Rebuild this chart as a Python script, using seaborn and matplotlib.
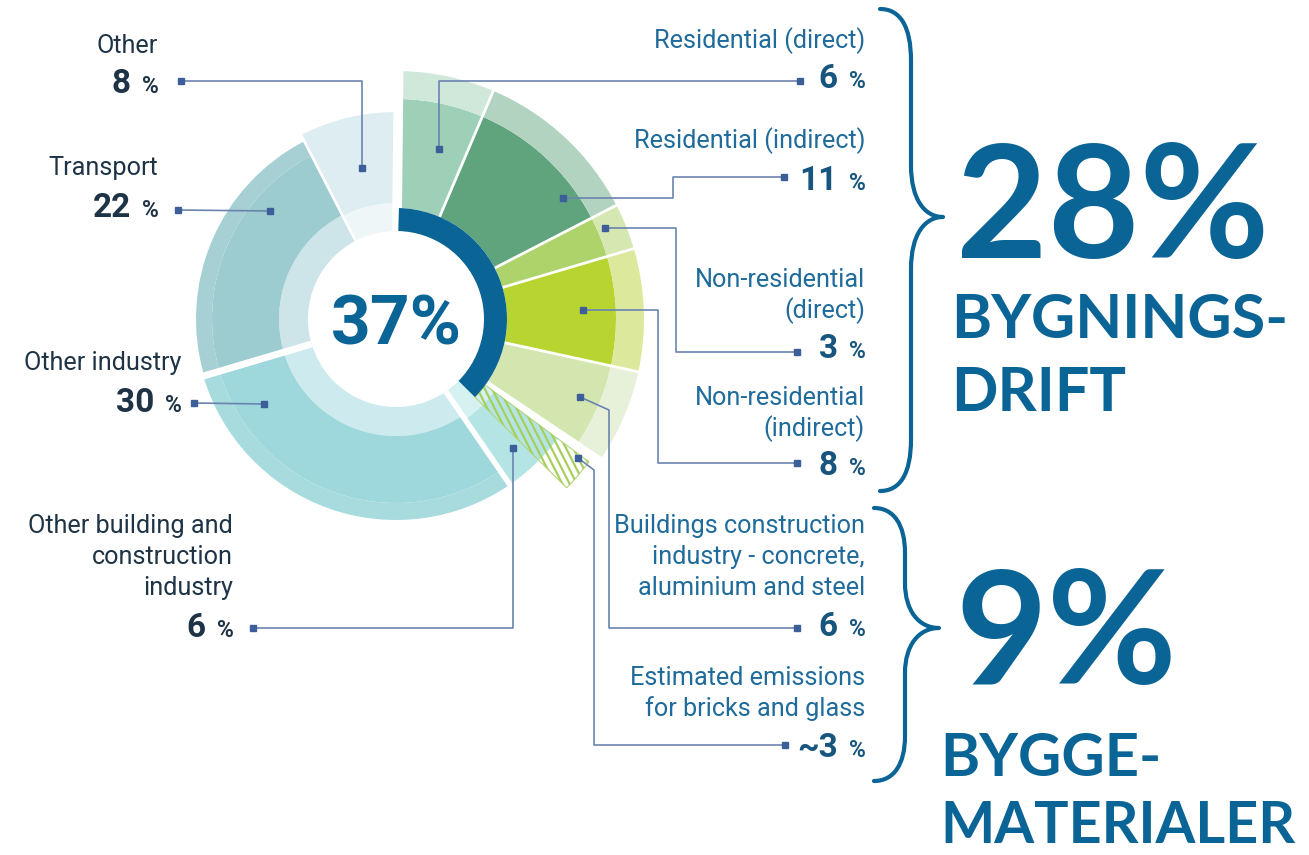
import matplotlib
matplotlib.use("Agg")
import matplotlib.pyplot as plt
from matplotlib.patches import Wedge, PathPatch
from matplotlib.path import Path
import numpy as np
import seaborn as sns

# shares of global CO2 emissions, in percent
building_labels = ["Residential (direct)", "Residential (indirect)", "Non-residential\n(direct)",
                   "Non-residential\n(indirect)",
                   "Buildings construction\nindustry - concrete,\naluminium and steel"]
building_values = [6, 11, 3, 8, 6]
bricks_label = "Estimated emissions\nfor bricks and glass"
bricks_value = 3
other_labels = ["Other building and\nconstruction\nindustry", "Other industry", "Transport", "Other"]
other_values = [6, 30, 22, 8]
total_share = 37
ops_share = 28
materials_share = 9

# colours (main band, outer rim)
building_colors = [("#9dd0b6", "#d0e8da"), ("#5fa47d", "#b2d3bf"), ("#add36a", "#d6e8b1"),
                   ("#b8d431", "#dce99c"), ("#d4e6b0", "#e7f1d9")]
# (inner band, main band, outer rim)
other_colors = [("#d6f1f1", "#b4e4e4", "#b4e4e4"), ("#cdebee", "#9ed8dc", "#a8dbde"),
                ("#cde5e8", "#9ccbd0", "#a7d0d4"), ("#eef6f8", "#ddedf2", "#ddedf2")]
dark = "#0a6496"
lead_col = "#6a84b0"
mark_col = "#3d5f99"
txt_right = "#1f6b9b"
num_right = "#17557f"
txt_left = "#1e3446"

sns.set_theme(style="white")
plt.rcParams["font.family"] = ["Roboto", "DejaVu Sans"]

W, H = 1309, 855
fig = plt.figure(figsize=(W / 100, H / 100), dpi=100)
ax = fig.add_axes([0, 0, 1, 1])
ax.set_xlim(0, W)
ax.set_ylim(H, 0)
ax.set_aspect("equal")
ax.axis("off")

cx, cy = 396, 319
r_hole, r_dark = 88, 111
deg = 3.6  # degrees per percent
start = 88.5


def band(a1, a2, r_in, r_out, color, **kw):
    lo, hi = sorted((a1, a2))
    w = Wedge((cx, cy), r_out, -hi, -lo, width=r_out - r_in, facecolor=color,
              edgecolor="none", **kw)
    ax.add_patch(w)
    return w


def radial(a, r_in, r_out, lw):
    t = np.radians(a)
    ax.plot([cx + r_in * np.cos(t), cx + r_out * np.cos(t)],
            [cy - r_in * np.sin(t), cy - r_out * np.sin(t)], color="white", lw=lw,
            solid_capstyle="butt", zorder=3)


# building related wedges, clockwise from the top
b_edges = start - deg * np.concatenate([[0], np.cumsum(building_values)])
constr_end = b_edges[-1]

# other sectors, clockwise after the buildings construction wedge
o_edges = constr_end - deg * np.concatenate([[0], np.cumsum(other_values)])
o_radii = [(122, 201, 201), (117, 184, 201), (117, 184, 200), (116, 207, 207)]
for i in range(len(other_values)):
    a1, a2 = o_edges[i], o_edges[i + 1]
    ri, rm, ro = o_radii[i]
    cin, cmain, crim = other_colors[i]
    band(a1, a2, r_hole, ri, cin)
    band(a1, a2, ri, rm, cmain)
    if ro > rm:
        band(a1, a2, rm, ro, crim)

for i in range(len(building_values)):
    a1, a2 = b_edges[i], b_edges[i + 1]
    band(a1, a2, r_dark, 220, building_colors[i][0])
    band(a1, a2, 220, 248, building_colors[i][1])

# gap + striped estimate for bricks and glass
bricks_end = constr_end - deg * bricks_value
band(constr_end, constr_end - 2.6, r_dark, 255, "white", zorder=2)
clip = band(constr_end - 2.6, bricks_end, r_dark, 240, "none", zorder=2)
clip.set_edgecolor("#b5d67a")
clip.set_linewidth(0.8)
tilt = np.radians(63)
d = np.array([np.cos(tilt), np.sin(tilt)])
n = np.array([-np.sin(tilt), np.cos(tilt)])
mid = np.radians(-(constr_end + bricks_end) / 2)
c0 = np.array([cx + 175 * np.cos(mid), cy + 175 * np.sin(mid)])
for k in np.arange(-120, 121, 6.5):
    p = c0 + k * n
    ln, = ax.plot([p[0] - 150 * d[0], p[0] + 150 * d[0]], [p[1] - 150 * d[1], p[1] + 150 * d[1]],
                  color="#a8cf5e", lw=1.6, zorder=2)
    ln.set_clip_path(clip)

# separators
for a in b_edges[1:-1]:
    radial(a, r_dark, 252, 2)
radial(o_edges[1], r_hole, 205, 4)
radial(o_edges[2], r_hole, 205, 5)
radial(o_edges[3], r_hole, 210, 2)
radial(start + 0.9, r_hole - 2, 255, 7)

# inner dark arc for buildings share
band(start, start - deg * total_share, r_hole, r_dark, dark, zorder=4)
ax.text(cx, cy + 25, f"{total_share}%", ha="center", va="baseline", fontsize=50,
        fontweight="bold", color=dark, zorder=5)


def leader(route):
    xs, ys = zip(*route)
    ax.plot(xs, ys, color=lead_col, lw=1.2, zorder=6)
    ax.plot([xs[0], xs[-1]], [ys[0], ys[-1]], "s", color=mark_col, ms=4.5, zorder=7)


def label(x, y_first, y_num, text, value, tcol, ncol, prefix=""):
    for k, line in enumerate(text.split("\n")):
        ax.text(x, y_first + k * 31, line, ha="right", va="baseline", fontsize=18.2, color=tcol)
    ax.text(x - 27, y_num, f"{prefix}{value}", ha="right", va="baseline", fontsize=24,
            fontweight="bold", color=ncol)
    ax.text(x + 1, y_num, "%", ha="right", va="baseline", fontsize=16.5, fontweight="bold",
            color=ncol)


# right hand labels: (first baseline, number baseline, leader route)
right_layout = [
    (48, 88, [(800, 81), (439, 81), (439, 149)]),
    (148, 190, [(784, 177), (673, 177), (673, 198), (563, 198)]),
    (287, 358, [(797, 352), (676, 352), (676, 228), (605, 228)]),
    (405, 475, [(797, 463), (658, 463), (658, 310), (583, 310)]),
    (533, 636, [(797, 628), (609, 628), (609, 410), (580, 397)]),
]
for (yf, yn, route), text, v in zip(right_layout, building_labels, building_values):
    label(865, yf, yn, text, v, txt_right, num_right)
    leader(route)
label(865, 685, 757, bricks_label, bricks_value, txt_right, num_right, prefix="~")
leader([(785, 745), (594, 745), (594, 470), (578, 458)])

# left hand labels: (right edge, first baseline, number baseline, leader route)
left_layout = [
    (233, 533, 637, [(253, 628), (513, 628), (513, 448)]),
    (181, 370, 412, [(194, 403), (264, 404)]),
    (158, 175, 217, [(178, 210), (270, 211)]),
    (158, 53, 93, [(181, 81), (362, 81), (362, 168)]),
]
for (xr, yf, yn, route), text, v in zip(left_layout, other_labels, other_values):
    label(xr, yf, yn, text, v, txt_left, txt_left)
    leader(route)


def brace(x_end, x_stem, x_tip, y_top, y_tip, y_bot, k=52):
    verts = [(x_end, y_top),
             (x_stem - 11, y_top), (x_stem, y_top + 17), (x_stem, y_top + k),
             (x_stem, y_tip - k),
             (x_stem, y_tip - 17), (x_stem + 14, y_tip), (x_tip, y_tip),
             (x_stem + 14, y_tip), (x_stem, y_tip + 17), (x_stem, y_tip + k),
             (x_stem, y_bot - k),
             (x_stem, y_bot - 17), (x_stem - 11, y_bot), (x_end, y_bot)]
    codes = [Path.MOVETO] + [Path.CURVE4] * 3 + [Path.LINETO] + [Path.CURVE4] * 6 + \
            [Path.LINETO] + [Path.CURVE4] * 3
    ax.add_patch(PathPatch(Path(verts, codes), facecolor="none", edgecolor=dark, lw=3,
                           capstyle="round", joinstyle="round"))


brace(880, 911, 943, 9, 217, 491)
brace(874, 905, 939, 508, 628, 781, k=45)

big = dict(color=dark, fontweight="bold", family=["Lato", "DejaVu Sans"], va="baseline")
ax.text(1113, 258, f"{ops_share}%", ha="center", fontsize=114, **big)
ax.text(951, 338, "BYGNINGS-", ha="left", fontsize=44, **big)
ax.text(951, 411, "DRIFT", ha="left", fontsize=44, **big)
ax.text(1066, 684, f"{materials_share}%", ha="center", fontsize=114, **big)
ax.text(940, 776, "BYGGE-", ha="left", fontsize=43, **big)
ax.text(940, 843, "MATERIALER", ha="left", fontsize=41.3, **big)

fig.savefig("out.png", dpi=100, facecolor="white")
